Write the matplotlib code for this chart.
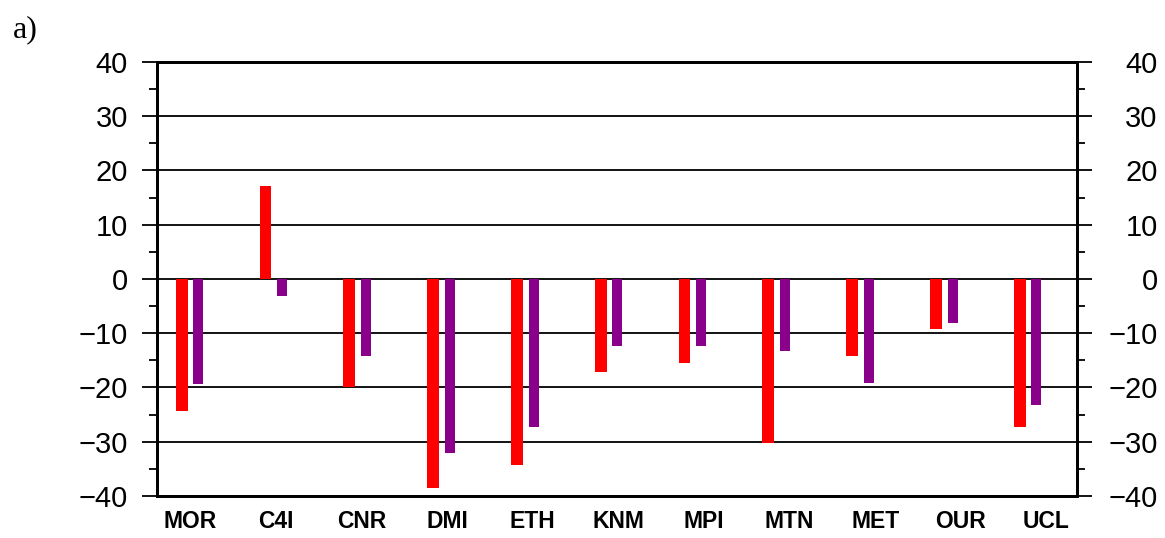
import numpy as np
import matplotlib
matplotlib.use("Agg")
import matplotlib.pyplot as plt
from matplotlib.ticker import MultipleLocator

models = ["MOR", "C4I", "CNR", "DMI", "ETH", "KNM", "MPI", "MTN", "MET", "OUR", "UCL"]
red_vals = [-24.3, 17.2, -20.0, -38.5, -34.2, -17.2, -15.4, -30.2, -14.2, -9.2, -27.3]
purple_vals = [-19.3, -3.1, -14.2, -32.1, -27.3, -12.4, -12.4, -13.3, -19.2, -8.2, -23.2]
yticks = [-40, -30, -20, -10, 0, 10, 20, 30, 40]

plt.rcParams["font.family"] = ["Liberation Sans", "DejaVu Sans"]

fig = plt.figure(figsize=(11.65, 5.38), dpi=100)
ax = fig.add_axes([0.1348, 0.0781, 0.7897, 0.8067])

x = np.arange(len(models))
ax.bar(x - 0.10, red_vals, width=0.14, color="#ff0000", zorder=3)
ax.bar(x + 0.10, purple_vals, width=0.12, color="#8b008b", zorder=3)

ax.set_xlim(-0.394, 10.585)
ax.set_ylim(-40, 40)

for v in yticks[1:-1]:
    ax.axhline(v, color="black", lw=1.3, zorder=2)

ax.set_xticks(x * 1.022)
ax.set_xticklabels(models, fontsize=16.5, fontweight="bold")
ax.tick_params(axis="x", length=0, pad=10)

ylabels = [str(v).replace("-", "\u2212") for v in yticks]

ax.set_yticks(yticks)
ax.yaxis.set_minor_locator(MultipleLocator(5))
ax.set_yticklabels(ylabels, fontsize=21)
ax.tick_params(axis="y", which="major", direction="out", length=11, width=1.3, pad=10)
ax.tick_params(axis="y", which="minor", direction="out", length=6, width=1.3)

ax2 = ax.twinx()
ax2.set_ylim(-40, 40)
ax2.set_yticks(yticks)
ax2.yaxis.set_minor_locator(MultipleLocator(5))
ax2.set_yticklabels(ylabels, fontsize=21, ha="right")
ax2.tick_params(axis="y", which="major", direction="out", length=11, width=1.3, pad=47)
ax2.tick_params(axis="y", which="minor", direction="out", length=6, width=1.3)

for a in (ax, ax2):
    for s in a.spines.values():
        s.set_linewidth(2)
        s.set_color("black")

fig.text(0.011, 0.945, "a)", fontsize=23, family="Liberation Serif", va="center")

fig.savefig("out.png", dpi=100)
